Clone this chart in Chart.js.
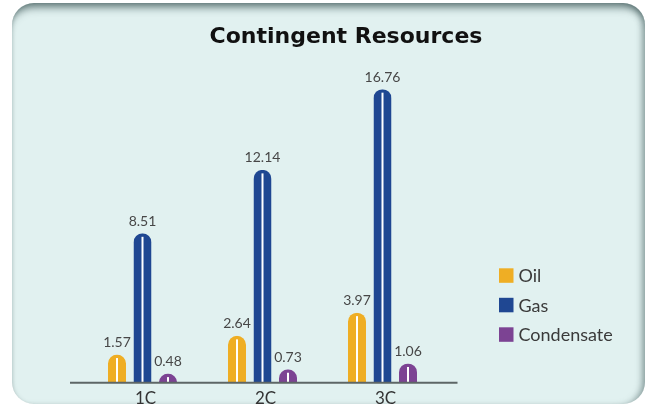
<!DOCTYPE html>
<html>
<head>
<meta charset="utf-8">
<script src="https://cdn.jsdelivr.net/npm/chart.js@4/dist/chart.umd.min.js"></script>
<style>
  html, body { margin: 0; padding: 0; background: #ffffff; width: 648px; height: 407px; overflow: hidden; }
  #card {
    position: absolute; left: 12px; top: 3px; width: 633px; height: 401px;
    border-radius: 22px; background: #e1f1f0;
    box-shadow: inset 0 11px 9px -7px rgba(70,95,95,0.85),
                inset -6px 0 6px -3px rgba(70,95,95,0.55),
                inset 3px 0 4px -3px rgba(70,95,95,0.35);
  }
  #c { position: absolute; left: 44px; top: 0; }
</style>
</head>
<body>
<div id="card"></div>
<canvas id="c" width="604" height="415"></canvas>
<script>
const categories = ['1C', '2C', '3C'];
const seriesNames = ['Oil', 'Gas', 'Condensate'];
const oilValues = [1.57, 2.64, 3.97];
const gasValues = [8.51, 12.14, 16.76];
const condensateValues = [0.48, 0.73, 1.06];
const seriesColors = ['#efae24', '#1f4792', '#7c4393'];
const chartTitle = 'Contingent Resources';

// Rounded-top bar with a white centre stripe, drawn from the element's own scale geometry
Chart.BarElement.prototype.draw = function (ctx) {
  const { x, y, base, width } = this.getProps(['x', 'y', 'base', 'width']);
  const r = width / 2;
  const top = Math.min(y, base), bottom = Math.max(y, base);
  ctx.save();
  ctx.beginPath();
  ctx.rect(x - r, top, width, bottom - top);
  ctx.clip();
  ctx.beginPath();
  ctx.moveTo(x - r, bottom);
  ctx.lineTo(x - r, top + r);
  ctx.arc(x, top + r, r, Math.PI, 0);
  ctx.lineTo(x + r, bottom);
  ctx.closePath();
  ctx.fillStyle = this.options.backgroundColor;
  ctx.fill();
  ctx.fillStyle = '#ffffff';
  ctx.fillRect(x - 1, top + 3.5, 2, bottom - top - 3.5);
  ctx.restore();
};

const extras = {
  id: 'extras',
  afterDatasetsDraw(chart) {
    const ctx = chart.ctx;
    const area = chart.chartArea;
    // baseline
    ctx.save();
    ctx.strokeStyle = '#5d6666';
    ctx.lineWidth = 2;
    ctx.beginPath();
    ctx.moveTo(area.left - 12.5, area.bottom + 0.7);
    ctx.lineTo(area.right + 15, area.bottom + 0.7);
    ctx.stroke();
    // value labels
    ctx.font = '14px Lato';
    ctx.fillStyle = '#474747';
    ctx.textAlign = 'center';
    ctx.textBaseline = 'alphabetic';
    chart.data.datasets.forEach((ds, di) => {
      chart.getDatasetMeta(di).data.forEach((el, i) => {
        ctx.fillText(ds.data[i].toFixed(2), el.x, el.y - 7.5);
      });
    });
    // legend
    const lx = area.right + 56.5, ly = 268.3, step = 29.5, box = 14.5;
    ctx.font = '18px Lato';
    ctx.textAlign = 'left';
    ctx.textBaseline = 'middle';
    chart.data.datasets.forEach((ds, di) => {
      const yy = ly + di * step;
      ctx.fillStyle = ds.backgroundColor;
      ctx.fillRect(lx, yy, box, box);
      ctx.fillStyle = '#3a3a3a';
      ctx.fillText(ds.label, lx + box + 5, yy + box / 2 + 1);
    });
    ctx.restore();
  }
};

new Chart(document.getElementById('c'), {
  type: 'bar',
  data: {
    labels: categories,
    datasets: [
      { label: seriesNames[0], data: oilValues, backgroundColor: seriesColors[0] },
      { label: seriesNames[1], data: gasValues, backgroundColor: seriesColors[1] },
      { label: seriesNames[2], data: condensateValues, backgroundColor: seriesColors[2] }
    ]
  },
  options: {
    responsive: false,
    devicePixelRatio: 1,
    animation: false,
    categoryPercentage: 0.6375,
    barPercentage: 0.706,
    layout: { padding: { top: 0, bottom: 0.6, left: 0, right: 0 } },
    plugins: {
      legend: { display: false },
      tooltip: { enabled: false },
      title: {
        display: true,
        text: chartTitle,
        color: '#111111',
        font: { family: '"DejaVu Sans"', size: 22, weight: 'bold' },
        padding: { top: 23.8, bottom: 17.3 }
      }
    },
    scales: {
      x: {
        grid: { display: false, drawTicks: false },
        border: { display: false },
        ticks: { color: '#333333', font: { family: 'Lato', size: 17 }, padding: 6, labelOffset: 3 }
      },
      y: {
        min: 0, max: 18,
        position: 'left',
        grid: { display: false, drawTicks: false },
        border: { display: false },
        ticks: { display: false },
        afterFit(s) { s.width = 38.5; }
      },
      y2: {
        min: 0, max: 1,
        position: 'right',
        grid: { display: false, drawTicks: false },
        border: { display: false },
        ticks: { display: false },
        afterFit(s) { s.width = 205.5; }
      }
    }
  },
  plugins: [extras]
});
</script>
</body>
</html>
